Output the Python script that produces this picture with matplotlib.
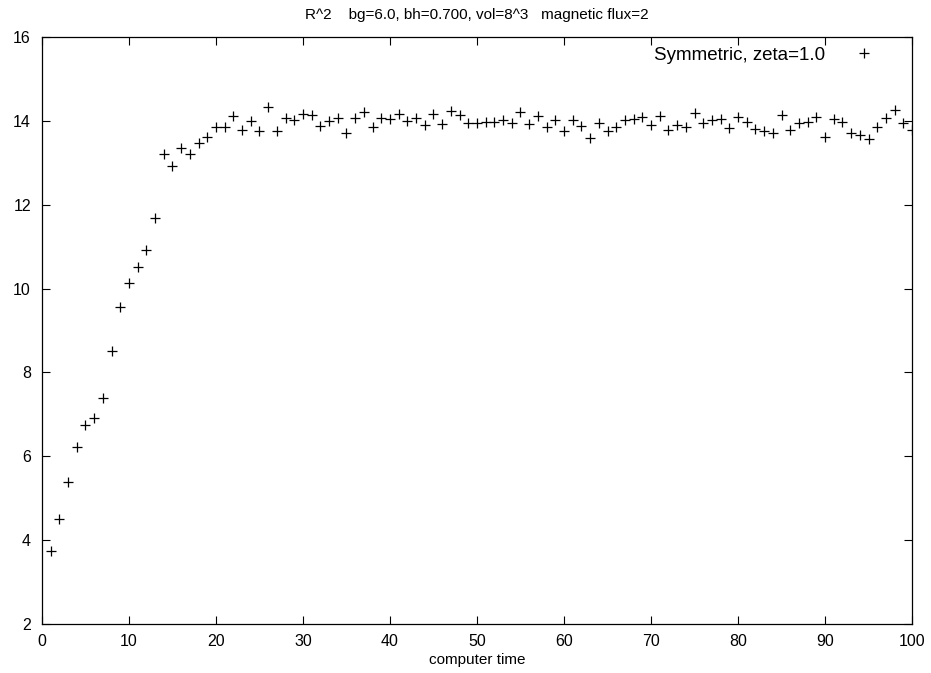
import matplotlib
matplotlib.use("Agg")
import matplotlib.pyplot as plt

plt.rcParams["font.family"] = ["Liberation Sans", "DejaVu Sans"]

# computer time steps and R^2 values
steps = list(range(1, 101))
r2 = [
    3.73, 4.50, 5.39, 6.21, 6.74, 6.91, 7.38, 8.50, 9.56, 10.13,
    10.51, 10.91, 11.69, 13.21, 12.92, 13.35, 13.22, 13.47, 13.62, 13.85,
    13.85, 14.12, 13.78, 14.00, 13.75, 14.32, 13.75, 14.06, 14.02, 14.17,
    14.15, 13.88, 14.00, 14.07, 13.70, 14.08, 14.20, 13.85, 14.08, 14.04,
    14.16, 14.00, 14.08, 13.91, 14.16, 13.93, 14.24, 14.13, 13.96, 13.96,
    13.98, 13.97, 14.02, 13.95, 14.20, 13.92, 14.12, 13.86, 14.03, 13.77,
    14.03, 13.88, 13.60, 13.95, 13.76, 13.86, 14.03, 14.04, 14.09, 13.89,
    14.12, 13.79, 13.90, 13.86, 14.19, 13.96, 14.03, 14.04, 13.84, 14.09,
    13.97, 13.81, 13.77, 13.70, 14.13, 13.78, 13.94, 13.98, 14.10, 13.61,
    14.04, 13.97, 13.72, 13.66, 13.57, 13.86, 14.07, 14.26, 13.96, 13.78,
]
xticks = list(range(0, 101, 10))
yticks = list(range(2, 17, 2))

fig = plt.figure(figsize=(9.31, 6.73), dpi=100)
ax = fig.add_axes([0.0451, 0.0728, 0.9345, 0.8722])

ax.plot(steps, r2, linestyle="none", marker="+", color="black",
        markersize=7, markeredgewidth=0.9, label="Symmetric, zeta=1.0")

ax.set_xlim(0, 100)
ax.set_ylim(2, 16)
ax.set_xticks(xticks)
ax.set_yticks(yticks)
ax.tick_params(direction="in", top=True, right=True, length=6, width=0.8,
               labelsize=11.5)
ax.tick_params(axis="x", pad=7)
ax.tick_params(axis="y", pad=8)
for s in ax.spines.values():
    s.set_linewidth(0.9)

ax.set_xlabel("computer time", fontsize=11, labelpad=3)
ax.set_title("R^2    bg=6.0, bh=0.700, vol=8^3   magnetic flux=2",
             fontsize=11, pad=13)
ax.legend(loc="upper right", bbox_to_anchor=(0.962, 0.984), frameon=False,
          markerfirst=False, fontsize=13.5, handlelength=1.6,
          handletextpad=1.28, borderaxespad=0, borderpad=0)

fig.savefig("out.png", dpi=100)
